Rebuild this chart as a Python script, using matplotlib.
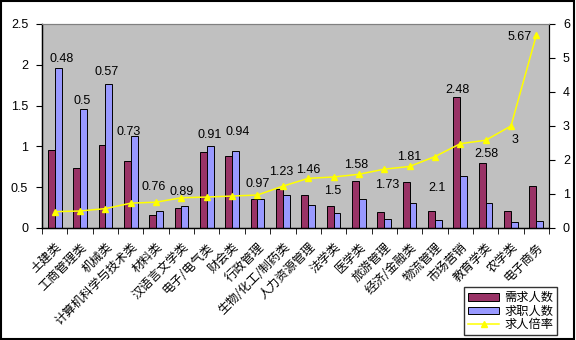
import matplotlib
matplotlib.use("Agg")
import matplotlib.pyplot as plt
import numpy as np
from matplotlib.patches import Rectangle, Patch
from matplotlib.lines import Line2D

plt.rcParams['font.family'] = ['Liberation Sans', 'Noto Sans CJK SC', 'DejaVu Sans']

categories = ["土建类", "工商管理类", "机械类", "计算机科学与技术类", "材料类", "汉语言文学类",
              "电子/电气类", "财会类", "行政管理", "生物/化工/制药类", "人力资源管理", "法学类",
              "医学类", "旅游管理", "经济/金融类", "物流管理", "市场营销", "教育学类", "农学类", "电子商务"]
demand = [0.95, 0.73, 1.02, 0.82, 0.16, 0.24, 0.93, 0.88, 0.35, 0.48, 0.41, 0.27,
          0.57, 0.20, 0.56, 0.21, 1.60, 0.80, 0.21, 0.52]
supply = [1.96, 1.46, 1.77, 1.13, 0.21, 0.27, 1.01, 0.94, 0.36, 0.40, 0.28, 0.18,
          0.36, 0.11, 0.31, 0.10, 0.64, 0.31, 0.07, 0.09]
ratio = [0.48, 0.5, 0.57, 0.73, 0.76, 0.89, 0.91, 0.94, 0.97, 1.23, 1.46, 1.5,
         1.58, 1.73, 1.81, 2.1, 2.48, 2.58, 3, 5.67]
ratio_labels = ["0.48", "0.5", "0.57", "0.73", "0.76", "0.89", "0.91", "0.94", "0.97", "1.23",
                "1.46", "1.5", "1.58", "1.73", "1.81", "2.1", "2.48", "2.58", "3", "5.67"]

# label placement offsets (pixels) relative to each line point
lab_dx = [7, 2, 1.5, -2, -2, 0, 3, 5.5, 0, -2, 0, -1, -3, 2.5, 0, 2, -3, 1, 4, -17]
lab_dy = [153, 110, 137, 71, 15, 6, 62, 64, 11, 14, 8, -14, 9, -16, 9.5, -31, 54, -14, -14, -2]

fig = plt.figure(figsize=(5.76, 3.40), dpi=100)
ax = fig.add_axes([42/576, 1-228/340, (549-42)/576, (228-24)/340])
ax.set_facecolor('#C0C0C0')

x = np.arange(len(categories))
w = 0.27
ax.bar(x - w/2, demand, w, color='#993366', edgecolor='black', linewidth=0.7, zorder=2)
ax.bar(x + w/2, supply, w, color='#9999FF', edgecolor='black', linewidth=0.7, zorder=2)
ax.set_xlim(-0.5, len(categories) - 0.5)
ax.set_ylim(0, 2.5)
ax.set_yticks([0, 0.5, 1, 1.5, 2, 2.5])
ax.set_yticklabels(["0", "0.5", "1", "1.5", "2", "2.5"], fontsize=9)
ax.set_xticks(x)
ax.set_xticklabels(categories, rotation=45, ha='right', rotation_mode='anchor',
                   fontsize=8.8, family=['Noto Sans CJK SC', 'DejaVu Sans'])
ax.tick_params(axis='x', length=0, pad=9)
ax.set_xticks(np.arange(-0.5, len(categories), 1), minor=True)
ax.tick_params(axis='x', which='minor', length=4, direction='out', color='black')
ax.tick_params(axis='y', length=4, direction='out', pad=6)
for s in ['left', 'bottom']:
    ax.spines[s].set_color('black')
    ax.spines[s].set_linewidth(1)
ax.spines['top'].set_color('#808080')
ax.spines['right'].set_color('black')

ax2 = ax.twinx()
ax2.plot(x, ratio, color='#FFFF00', linewidth=1.1, marker='^', markersize=5,
         markerfacecolor='#FFFF00', markeredgecolor='#FFFF00', zorder=3)
ax2.set_ylim(0, 6)
ax2.set_yticks(range(0, 7))
ax2.set_yticklabels([str(v) for v in range(0, 7)], fontsize=9)
ax2.tick_params(axis='y', length=4, direction='out', pad=6)
ax2.spines['right'].set_color('black')
ax2.spines['top'].set_color('#808080')

for i, (r, t) in enumerate(zip(ratio, ratio_labels)):
    ax2.annotate(t, xy=(i, r), xytext=(lab_dx[i], lab_dy[i]), textcoords='offset pixels',
                 ha='center', va='center', fontsize=9, color='black', zorder=4)

handles = [Patch(facecolor='#993366', edgecolor='black', linewidth=0.7),
           Patch(facecolor='#9999FF', edgecolor='black', linewidth=0.7),
           Line2D([0], [0], color='#FFFF00', marker='^', markersize=5, linewidth=1.1)]
leg = fig.legend(handles, ["需求人数", "求职人数", "求人倍率"], loc='lower right',
                 bbox_to_anchor=(557/576, 5/340), frameon=True, fancybox=False,
                 prop={'family': ['Noto Sans CJK SC'], 'size': 8.8},
                 handlelength=2.6, handleheight=0.6, labelspacing=0.05,
                 borderpad=0.3, handletextpad=0.4, borderaxespad=0)
leg.get_frame().set_edgecolor('black')
leg.get_frame().set_linewidth(1)

fig.patches.append(Rectangle((0.002, 0.003), 0.995, 0.993, transform=fig.transFigure,
                             fill=False, edgecolor='black', linewidth=1.5))

fig.savefig("out.png", dpi=100)
